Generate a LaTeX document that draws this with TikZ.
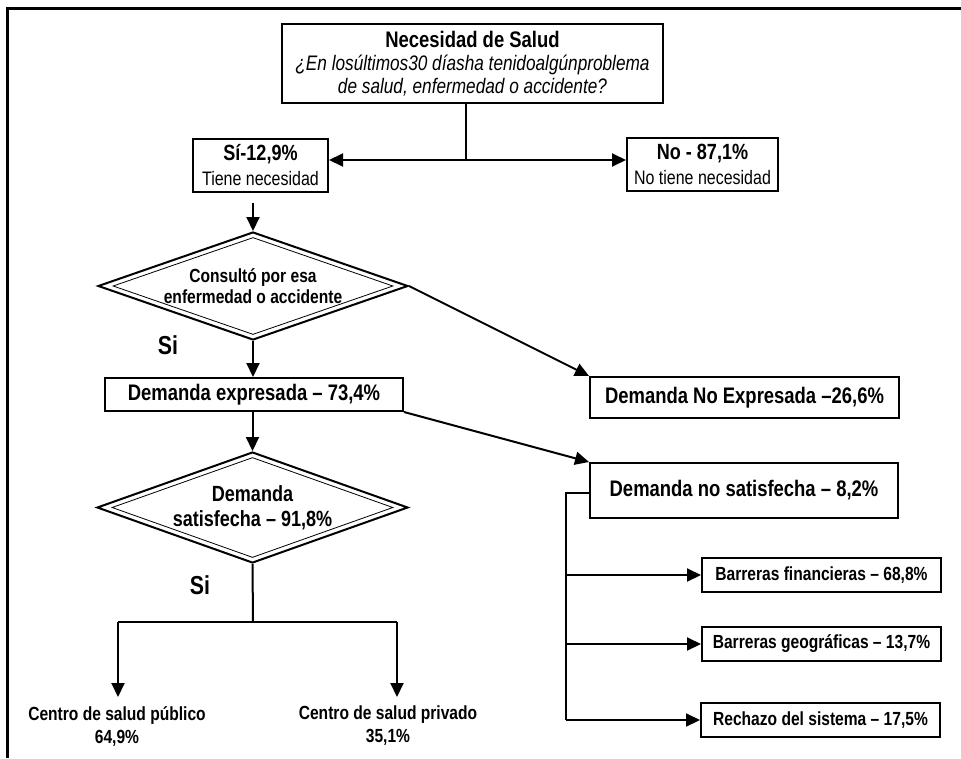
\documentclass[tikz,border=0pt]{standalone}
\usepackage{fontspec}
\setmainfont{Liberation Sans}[FakeStretch=0.82]
\usetikzlibrary{shapes.geometric,arrows.meta,calc}

\tikzset{
  box/.style={draw,line width=2pt,rectangle,inner sep=0pt,align=center},
  choice/.style={draw,diamond,line width=2pt,aspect=2.9,inner sep=0pt,align=center},
  innerchoice/.style={draw,diamond,line width=0.8pt,inner sep=0pt},
  link/.style={line width=2pt},
  flow/.style={link,-{Triangle[length=14pt,width=13pt]}},
  lbl/.style={font=\fontsize{19}{23}\selectfont\bfseries,align=center},
  big/.style={font=\fontsize{22.5}{25}\selectfont\bfseries},
  small/.style={font=\fontsize{19}{20}\selectfont\bfseries},
}

\begin{document}
\begin{tikzpicture}[x=1pt,y=-1pt]
\useasboundingbox (0,0) rectangle (961,758);
\draw[line width=3pt] (7,758) -- (7,8) -- (961,8);

\node[box,minimum width=381,minimum height=79,font=\fontsize{21}{23}\selectfont] (salud) at (472.5,63.5)
  {{\bfseries\fontsize{22.5}{23}\selectfont Necesidad de Salud}\\
   \textit{¿En losúltimos30 díasha tenidoalgúnproblema}\\
   \textit{de salud, enfermedad o accidente?}};
\node[box,minimum width=135,minimum height=53,font=\fontsize{19.5}{25}\selectfont] (si) at (260.5,165)
  {{\bfseries\fontsize{22}{25}\selectfont Sí-12,9\%}\\Tiene necesidad};
\node[box,minimum width=151,minimum height=53,font=\fontsize{19.5}{25}\selectfont] (no) at (702.5,164.5)
  {{\bfseries\fontsize{22}{25}\selectfont No - 87,1\%}\\No tiene necesidad};

\coordinate (bif) at (466,160);
\draw[link] (salud.south -| bif) -- (bif);
\draw[flow] (bif) -- (bif -| si.east);
\draw[flow] (bif) -- (bif -| no.west);

% first question
\node[choice,minimum width=310,minimum height=108,font=\fontsize{19}{21}\selectfont\bfseries] (cons) at (253,286)
  {Consultó por esa\\enfermedad o accidente};
\node[innerchoice,minimum width=280,minimum height=97] at (cons) {};
\coordinate (sidown) at (253,203);
\draw[flow] (sidown) -- (cons.north);
\node[font=\fontsize{26}{28}\selectfont\bfseries] (si1) at (168,345) {Si};

\node[box,big,minimum width=298,minimum height=33] (dexp) at (254,394.5) {Demanda expresada – 73,4\%};
\node[box,big,minimum width=309,minimum height=41] (dnoexp) at (744.5,397.5) {Demanda No Expresada –26,6\%};
\node[box,big,minimum width=308,minimum height=55] (dnosat) at (744,490.5) {Demanda no satisfecha – 8,2\%};
\draw[flow] (cons.south) -- (cons.south |- dexp.north);
\draw[flow] (cons.east) -- (dnoexp.north west);
\draw[flow] (dexp.south east) -- (dnosat.north west);

% second question
\node[choice,minimum width=311,minimum height=111,font=\fontsize{22}{25}\selectfont\bfseries] (sat) at (252.5,507.5)
  {Demanda\\satisfecha – 91,8\%};
\node[innerchoice,minimum width=281,minimum height=100] at (sat) {};
\draw[flow] (dexp.south -| sat.north) -- (sat.north);
\node[font=\fontsize{26}{28}\selectfont\bfseries] (si2) at (200,585) {Si};

\coordinate (fork) at (253,622);
\coordinate (forkL) at (118,622);
\coordinate (forkR) at (397,622);
\draw[link] (sat.south) -- (fork);
\draw[link] (forkL) -- (forkR);
\draw[flow] (forkL) -- ++(0,75);
\draw[flow] (forkR) -- ++(0,75);
\node[lbl] (pub) at (117,726) {Centro de salud público\\64,9\%};
\node[lbl] (priv) at (388,726) {Centro de salud privado\\35,1\%};

% barriers
\node[box,small,minimum width=239,minimum height=34] (fin) at (821.5,575) {Barreras financieras – 68,8\%};
\node[box,small,minimum width=239,minimum height=34] (geo) at (821.5,644) {Barreras geográficas – 13,7\%};
\node[box,small,minimum width=239,minimum height=34] (rech) at (820.5,720) {Rechazo del sistema – 17,5\%};
\coordinate (rail) at (566,493);
\draw[link] (dnosat.west |- rail) -- (rail) -- (rail |- rech.west);
\foreach \b in {fin,geo,rech}{\draw[flow] (rail |- \b.west) -- (\b.west);}
\end{tikzpicture}
\end{document}
